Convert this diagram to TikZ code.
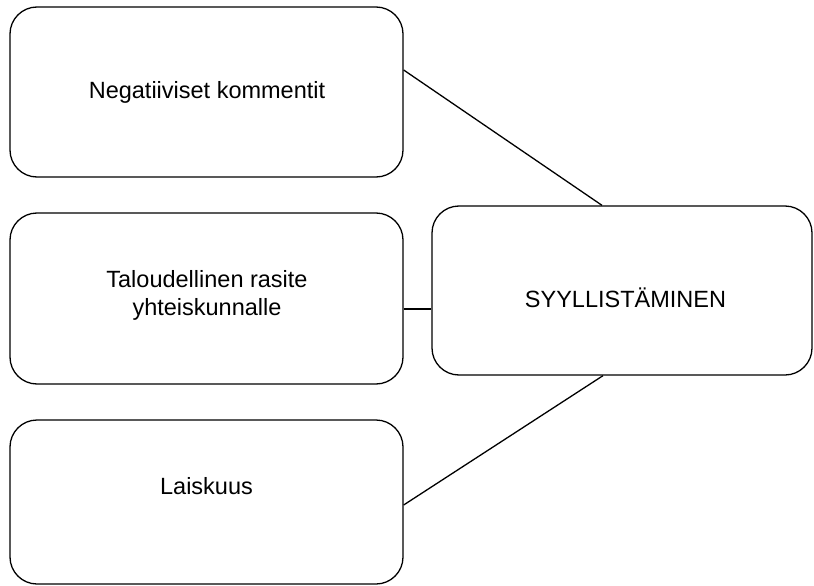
\documentclass[tikz,border=0pt]{standalone}
\usepackage{fontspec}
\setmainfont{Liberation Sans}
\usetikzlibrary{calc}
\begin{document}
\begin{tikzpicture}[x=1pt,y=-1pt,
  box/.style={draw=black, line width=1.3pt, rounded corners=27pt, inner sep=0pt},
  txt/.style={inner sep=0pt, font=\fontsize{23.5}{28}\selectfont, anchor=base},
  link/.style={draw=black, line width=1.3pt}]
\useasboundingbox (0,0) rectangle (814,586);
% boxes
\node[box, minimum width=393pt, minimum height=170pt] (b1) at (206.5,92) {};
\node[box, minimum width=393pt, minimum height=171pt] (b2) at (206.5,298.5) {};
\node[box, minimum width=393pt, minimum height=164pt] (b3) at (206.5,502) {};
\node[box, minimum width=380pt, minimum height=169pt] (b4) at (622,290.5) {};
% labels
\node[txt] (t1) at (207,99) {Negatiiviset kommentit};
\node[txt] (t2a) at (207,287) {Taloudellinen rasite};
\node[txt] (t2b) at (207,315) {yhteiskunnalle};
\node[txt] (t3) at (206.5,494) {Laiskuus};
\node[txt] (t4) at (625.5,307) {SYYLLISTÄMINEN};
% connectors
\draw[link] ($(b1.east)+(0,-22)$) -- ($(b4.north)+(-20,0)$);
\draw[link] ($(b2.east)+(0,10.5)$) coordinate (l2) -- (l2 -| b4.west);
\draw[link] ($(b3.east)+(0,3)$) -- ($(b4.south)+(-19,0)$);
\end{tikzpicture}
\end{document}
